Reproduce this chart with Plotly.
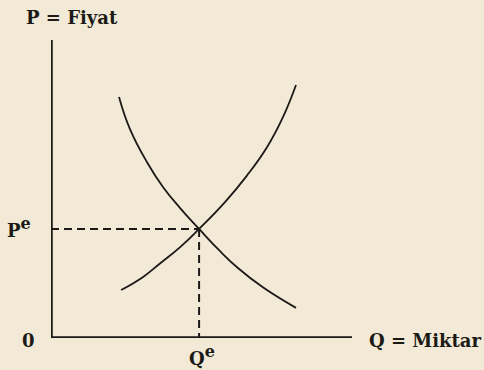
import plotly.graph_objects as go

# Demand curve (Q, P)
demand_q = [2.26, 2.62, 3.19, 3.72, 4.29, 4.92, 5.61, 6.21, 7.04, 8.14]
demand_p = [8.09, 7.02, 5.90, 5.07, 4.36, 3.66, 2.92, 2.35, 1.70, 1.01]
# Supply curve (Q, P)
supply_q = [2.33, 3.06, 3.62, 4.29, 4.92, 5.78, 6.51, 7.18, 7.71, 8.14]
supply_p = [1.61, 2.05, 2.50, 3.05, 3.66, 4.56, 5.45, 6.41, 7.42, 8.49]
# Equilibrium
q_e = 4.92
p_e = 3.66

ink = "#1c1a17"
paper = "#f2ead6"
font_fam = "DejaVu Serif"

fig = go.Figure()
fig.add_trace(go.Scatter(x=demand_q, y=demand_p, mode="lines",
                         line=dict(color=ink, width=1.8, shape="spline", smoothing=1.3),
                         hoverinfo="skip", showlegend=False))
fig.add_trace(go.Scatter(x=supply_q, y=supply_p, mode="lines",
                         line=dict(color=ink, width=1.8, shape="spline", smoothing=1.3),
                         hoverinfo="skip", showlegend=False))
# dashed guides
fig.add_trace(go.Scatter(x=[0, q_e], y=[p_e, p_e], mode="lines",
                         line=dict(color=ink, width=2, dash="8px,5px"),
                         hoverinfo="skip", showlegend=False))
fig.add_trace(go.Scatter(x=[q_e, q_e], y=[p_e, 0], mode="lines",
                         line=dict(color=ink, width=2, dash="8px,5px"),
                         hoverinfo="skip", showlegend=False))

# axes
fig.add_shape(type="line", x0=0, y0=0, x1=0, y1=10, line=dict(color=ink, width=3.5))
fig.add_shape(type="line", x0=0, y0=0, x1=10, y1=0, line=dict(color=ink, width=3.5))

fsize = 18
sup_e = "<sup><span style='font-size:16px'>e</span></sup>"

def ann(text, x, y, xanchor="center", yanchor="middle", size=fsize):
    # x, y in data units (0-10 range) converted to paper coordinates
    fig.add_annotation(text="<b>" + text + "</b>", x=x / 10.0, y=y / 10.0,
                       xref="paper", yref="paper", showarrow=False,
                       xanchor=xanchor, yanchor=yanchor,
                       font=dict(family=font_fam, size=size, color=ink))

ann("P = Fiyat", -0.9, 10.77, xanchor="left")
ann("P" + sup_e, -0.6, p_e + 0.05, xanchor="right")
ann("0", -0.76, -0.07)
ann("Q" + sup_e, q_e + 0.1, -0.6)
ann("Q = Miktar", 10.5, -0.07, xanchor="left")

fig.update_layout(
    width=484, height=370,
    margin=dict(l=51, r=132, t=40, b=32),
    paper_bgcolor=paper, plot_bgcolor=paper,
    xaxis=dict(range=[0, 10], visible=False, fixedrange=True),
    yaxis=dict(range=[0, 10], visible=False, fixedrange=True),
)
fig.write_html("out.html", config={"displayModeBar": False},
               post_script="document.body.style.margin='0';document.body.style.background='" + paper + "';")
